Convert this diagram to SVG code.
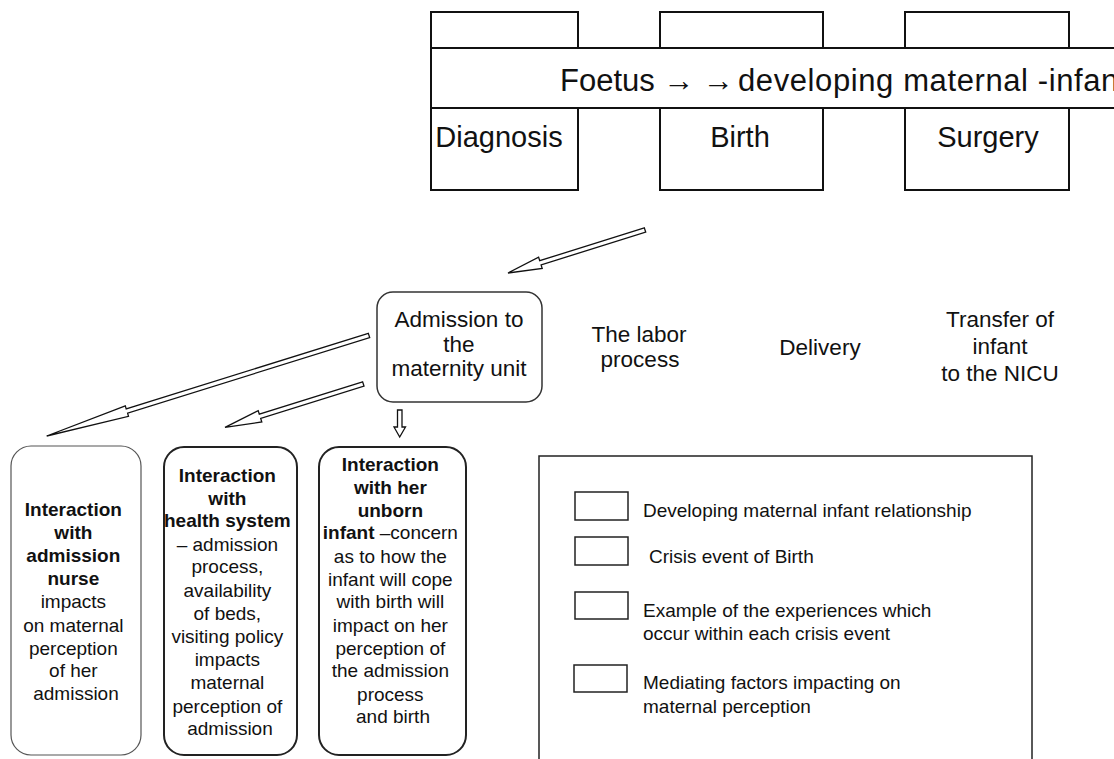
<svg xmlns="http://www.w3.org/2000/svg" width="1114" height="759" viewBox="0 0 1114 759">
  <style>
    text { font-family: "Liberation Sans", Arial, sans-serif; fill: #111; }
    .box { fill: #fff; stroke: #111; stroke-width: 2; }
    .band-text { font-size: 31px; }
    .event { font-size: 29px; text-anchor: middle; }
    .stage { font-size: 22.5px; text-anchor: middle; }
    .node { fill: #fff; stroke: #222; stroke-width: 2; }
    .node-thin { fill: #fff; stroke: #555; stroke-width: 1.2; }
    .factor { font-size: 19px; text-anchor: middle; }
    .b { font-weight: bold; }
    .legend { font-size: 19px; }
    .arrow { fill: #fff; stroke: #111; stroke-width: 1.3; stroke-linejoin: miter; }
  </style>

  <!-- Crisis event boxes split by the relationship band -->
  <g id="event-diagnosis">
    <rect class="box" x="431" y="12" width="147" height="178"/>
    <text class="event" x="499" y="147">Diagnosis</text>
  </g>
  <g id="event-birth">
    <rect class="box" x="660" y="12" width="163" height="178"/>
    <text class="event" x="740" y="147">Birth</text>
  </g>
  <g id="event-surgery">
    <rect class="box" x="905" y="12" width="164" height="178"/>
    <text class="event" x="988" y="147">Surgery</text>
  </g>
  <g id="relationship-band">
    <rect class="box" x="431" y="48" width="700" height="60"/>
    <text class="band-text" x="560" y="91">Foetus → →<tspan x="738" letter-spacing="0.6">developing maternal -infan</tspan></text>
  </g>

  <!-- Experiences within the birth event -->
  <g id="admission">
    <rect x="377" y="292" width="165" height="110" rx="16" ry="16" fill="#fff" stroke="#333" stroke-width="1.5"/>
    <text class="stage" x="459" y="327">Admission to</text>
    <text class="stage" x="459" y="352">the</text>
    <text class="stage" x="459" y="376">maternity unit</text>
  </g>
  <g id="labor">
    <text class="stage" x="639" y="342">The labor</text>
    <text class="stage" x="640" y="367">process</text>
  </g>
  <g id="delivery">
    <text class="stage" x="820" y="355">Delivery</text>
  </g>
  <g id="transfer">
    <text class="stage" x="1000" y="327">Transfer of</text>
    <text class="stage" x="1000" y="354">infant</text>
    <text class="stage" x="1000" y="381">to the NICU</text>
  </g>

  <!-- Mediating factors -->
  <g id="factor-nurse">
    <rect class="node-thin" x="11" y="446" width="130" height="309" rx="20" ry="20"/>
    <text class="factor" x="76">
      <tspan class="b" x="76" y="516">Interaction</tspan>
      <tspan class="b" x="76" y="539">with</tspan>
      <tspan class="b" x="76" y="562">admission</tspan>
      <tspan class="b" x="76" y="585">nurse</tspan>
      <tspan x="76" y="608">impacts</tspan>
      <tspan x="76" y="632">on maternal</tspan>
      <tspan x="76" y="655">perception</tspan>
      <tspan x="76" y="677">of her</tspan>
      <tspan x="76" y="700">admission</tspan>
    </text>
  </g>
  <g id="factor-health-system">
    <rect class="node" x="164" y="447" width="133" height="308" rx="20" ry="20"/>
    <text class="factor" x="230">
      <tspan class="b" x="230" y="482">Interaction</tspan>
      <tspan class="b" x="230" y="505">with</tspan>
      <tspan class="b" x="230" y="527">health system</tspan>
      <tspan x="230" y="551">– admission</tspan>
      <tspan x="230" y="573">process,</tspan>
      <tspan x="230" y="597">availability</tspan>
      <tspan x="230" y="620">of beds,</tspan>
      <tspan x="230" y="643">visiting policy</tspan>
      <tspan x="230" y="666">impacts</tspan>
      <tspan x="230" y="689">maternal</tspan>
      <tspan x="230" y="713">perception of</tspan>
      <tspan x="230" y="735">admission</tspan>
    </text>
  </g>
  <g id="factor-unborn-infant">
    <rect class="node" x="319" y="447" width="147" height="308" rx="20" ry="20"/>
    <text class="factor" x="393">
      <tspan class="b" x="393" y="471">Interaction</tspan>
      <tspan class="b" x="393" y="494">with her</tspan>
      <tspan class="b" x="393" y="517">unborn</tspan>
      <tspan x="393" y="539"><tspan class="b">infant</tspan> –concern</tspan>
      <tspan x="393" y="563">as to how the</tspan>
      <tspan x="393" y="586">infant will cope</tspan>
      <tspan x="393" y="608">with birth will</tspan>
      <tspan x="393" y="632">impact on her</tspan>
      <tspan x="393" y="655">perception of</tspan>
      <tspan x="393" y="677">the admission</tspan>
      <tspan x="393" y="701">process</tspan>
      <tspan x="393" y="723">and birth</tspan>
    </text>
  </g>

  <!-- Key -->
  <g id="legend">
    <rect x="539" y="456" width="493" height="320" fill="#fff" stroke="#222" stroke-width="1.5"/>
    <rect x="575" y="492" width="53" height="28" fill="#fff" stroke="#222" stroke-width="1.5"/>
    <text class="legend" x="643" y="517">Developing maternal infant relationship</text>
    <rect x="575" y="537" width="53" height="28" fill="#fff" stroke="#222" stroke-width="1.5"/>
    <text class="legend" x="649" y="563">Crisis event of Birth</text>
    <rect x="575" y="592" width="53" height="27" fill="#fff" stroke="#222" stroke-width="1.5"/>
    <text class="legend" x="643" y="617">Example of the experiences which</text>
    <text class="legend" x="643" y="640">occur within each crisis event</text>
    <rect x="574" y="665" width="53" height="27" fill="#fff" stroke="#222" stroke-width="1.5"/>
    <text class="legend" x="643" y="689">Mediating factors impacting on</text>
    <text class="legend" x="643" y="713">maternal perception</text>
  </g>

  <!-- Hollow block arrows -->
  <g id="connectors">
    <polygon class="arrow" points="644.3,227.9 539.7,260.7 538.6,257.1 508,273 542.2,268.5 541.1,264.9 645.7,232.1"/>
    <polygon class="arrow" points="368.3,333.4 126.2,408.9 125.3,405.8 46.7,436 128.5,416.3 127.6,413.1 369.7,337.6"/>
    <polygon class="arrow" points="362.6,381.9 259.3,414.2 258.2,410.6 225,427.3 261.8,422 260.7,418.4 364,386.1"/>
    <polygon class="arrow" points="397.5,410 402,410 402,427 405.5,427 399.7,437 394,427 397.5,427"/>
  </g>
</svg>
